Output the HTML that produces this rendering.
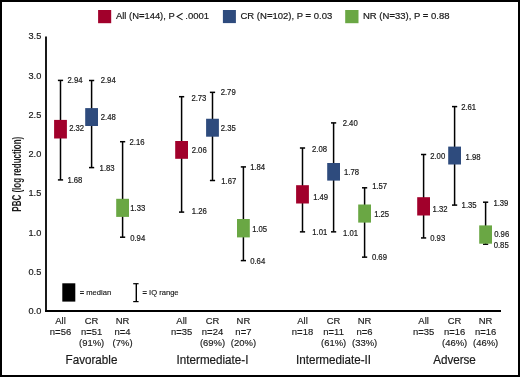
<!DOCTYPE html>
<html><head><meta charset="utf-8"><style>
html,body{margin:0;padding:0;background:#fff;}
body{width:520px;height:377px;overflow:hidden;position:relative;}
svg{position:absolute;left:0;top:0;will-change:transform;}
text{font-family:"Liberation Sans",sans-serif;fill:#1a1a1a;stroke:#1a1a1a;}
</style></head><body>
<svg width="520" height="377" viewBox="0 0 520 377">
<rect x="0" y="0" width="520" height="377" fill="#fff"/>
<rect x="1" y="1" width="518" height="375" fill="none" stroke="#000" stroke-width="2"/>
<rect x="98.1" y="10" width="13.1" height="13.2" fill="#A1002B"/>
<rect x="222.9" y="10" width="13" height="13.1" fill="#2E4B7D"/>
<rect x="345.2" y="10" width="13.3" height="13.2" fill="#6AA744"/>
<text id="leg1" transform="translate(116.00,19.40) scale(0.99,1)" font-size="9.5" stroke-width="0.2">All (N<tspan font-weight="bold">=</tspan>144), P</text>
<polyline points="182.6,13.3 177.1,16.6 182.6,19.9" fill="none" stroke="#1a1a1a" stroke-width="1.05"/>
<text id="leg1b" transform="translate(185.30,19.40)" font-size="9.5" stroke-width="0.2">.0001</text>
<text id="leg2" transform="translate(240.50,19.40)" font-size="9.5" stroke-width="0.2">CR (N<tspan font-weight="bold">=</tspan>102), P <tspan font-weight="bold">=</tspan> 0.03</text>
<text id="leg3" transform="translate(363.00,19.40)" font-size="9.5" stroke-width="0.2">NR (N<tspan font-weight="bold">=</tspan>33), P <tspan font-weight="bold">=</tspan> 0.88</text>
<line x1="46" y1="36.5" x2="46" y2="312" stroke="#000" stroke-width="1.8"/>
<line x1="45.1" y1="311" x2="501" y2="311" stroke="#000" stroke-width="1.8"/>
<text id="y3.5" transform="translate(41.31,39.18) scale(0.94,1)" font-size="9.8" text-anchor="end" stroke-width="0.2">3.5</text>
<text id="y3.0" transform="translate(41.31,78.61) scale(0.94,1)" font-size="9.8" text-anchor="end" stroke-width="0.2">3.0</text>
<text id="y2.5" transform="translate(41.31,118.05) scale(0.94,1)" font-size="9.8" text-anchor="end" stroke-width="0.2">2.5</text>
<text id="y2.0" transform="translate(41.31,157.46) scale(0.94,1)" font-size="9.8" text-anchor="end" stroke-width="0.2">2.0</text>
<text id="y1.5" transform="translate(41.31,195.96) scale(0.94,1)" font-size="9.8" text-anchor="end" stroke-width="0.2">1.5</text>
<text id="y1.0" transform="translate(41.31,235.82) scale(0.94,1)" font-size="9.8" text-anchor="end" stroke-width="0.2">1.0</text>
<text id="y0.5" transform="translate(41.31,274.88) scale(0.94,1)" font-size="9.8" text-anchor="end" stroke-width="0.2">0.5</text>
<text id="y0.0" transform="translate(41.31,314.33) scale(0.94,1)" font-size="9.8" text-anchor="end" stroke-width="0.2">0.0</text>
<text id="ytitle" transform="translate(20.90,174.20) rotate(-90) scale(0.665,1)" font-size="12" text-anchor="middle" font-weight="bold" stroke-width="0">PBC (log reduction)</text>
<line x1="60.5" y1="80.4" x2="60.5" y2="179.9" stroke="#000" stroke-width="1.5"/>
<line x1="57.90" y1="80.4" x2="63.10" y2="80.4" stroke="#000" stroke-width="1.5"/>
<line x1="57.90" y1="179.9" x2="63.10" y2="179.9" stroke="#000" stroke-width="1.5"/>
<rect x="54.10" y="119.9" width="12.8" height="18.60" fill="#A1002B"/>
<line x1="91.6" y1="80.5" x2="91.6" y2="167.6" stroke="#000" stroke-width="1.5"/>
<line x1="89.00" y1="80.5" x2="94.20" y2="80.5" stroke="#000" stroke-width="1.5"/>
<line x1="89.00" y1="167.6" x2="94.20" y2="167.6" stroke="#000" stroke-width="1.5"/>
<rect x="85.20" y="108.1" width="12.8" height="17.90" fill="#2E4B7D"/>
<line x1="122.6" y1="141.7" x2="122.6" y2="237.2" stroke="#000" stroke-width="1.5"/>
<line x1="120.00" y1="141.7" x2="125.20" y2="141.7" stroke="#000" stroke-width="1.5"/>
<line x1="120.00" y1="237.2" x2="125.20" y2="237.2" stroke="#000" stroke-width="1.5"/>
<rect x="116.20" y="198.8" width="12.8" height="18.10" fill="#6AA744"/>
<line x1="181.6" y1="96.7" x2="181.6" y2="212.1" stroke="#000" stroke-width="1.5"/>
<line x1="179.00" y1="96.7" x2="184.20" y2="96.7" stroke="#000" stroke-width="1.5"/>
<line x1="179.00" y1="212.1" x2="184.20" y2="212.1" stroke="#000" stroke-width="1.5"/>
<rect x="175.20" y="141.0" width="12.8" height="17.80" fill="#A1002B"/>
<line x1="212.5" y1="92.35" x2="212.5" y2="180.5" stroke="#000" stroke-width="1.5"/>
<line x1="209.90" y1="92.35" x2="215.10" y2="92.35" stroke="#000" stroke-width="1.5"/>
<line x1="209.90" y1="180.5" x2="215.10" y2="180.5" stroke="#000" stroke-width="1.5"/>
<rect x="206.10" y="118.75" width="12.8" height="17.95" fill="#2E4B7D"/>
<line x1="243.4" y1="166.9" x2="243.4" y2="260.6" stroke="#000" stroke-width="1.5"/>
<line x1="240.80" y1="166.9" x2="246.00" y2="166.9" stroke="#000" stroke-width="1.5"/>
<line x1="240.80" y1="260.6" x2="246.00" y2="260.6" stroke="#000" stroke-width="1.5"/>
<rect x="237.00" y="219.0" width="12.8" height="18.40" fill="#6AA744"/>
<line x1="302.5" y1="148.0" x2="302.5" y2="231.85" stroke="#000" stroke-width="1.5"/>
<line x1="299.90" y1="148.0" x2="305.10" y2="148.0" stroke="#000" stroke-width="1.5"/>
<line x1="299.90" y1="231.85" x2="305.10" y2="231.85" stroke="#000" stroke-width="1.5"/>
<rect x="296.10" y="185.2" width="12.8" height="18.30" fill="#A1002B"/>
<line x1="333.6" y1="122.9" x2="333.6" y2="231.85" stroke="#000" stroke-width="1.5"/>
<line x1="331.00" y1="122.9" x2="336.20" y2="122.9" stroke="#000" stroke-width="1.5"/>
<line x1="331.00" y1="231.85" x2="336.20" y2="231.85" stroke="#000" stroke-width="1.5"/>
<rect x="327.20" y="163.0" width="12.8" height="17.60" fill="#2E4B7D"/>
<line x1="364.6" y1="187.8" x2="364.6" y2="257.15" stroke="#000" stroke-width="1.5"/>
<line x1="362.00" y1="187.8" x2="367.20" y2="187.8" stroke="#000" stroke-width="1.5"/>
<line x1="362.00" y1="257.15" x2="367.20" y2="257.15" stroke="#000" stroke-width="1.5"/>
<rect x="358.20" y="204.5" width="12.8" height="18.10" fill="#6AA744"/>
<line x1="423.6" y1="154.5" x2="423.6" y2="237.95" stroke="#000" stroke-width="1.5"/>
<line x1="421.00" y1="154.5" x2="426.20" y2="154.5" stroke="#000" stroke-width="1.5"/>
<line x1="421.00" y1="237.95" x2="426.20" y2="237.95" stroke="#000" stroke-width="1.5"/>
<rect x="417.20" y="197.2" width="12.8" height="18.30" fill="#A1002B"/>
<line x1="454.6" y1="106.6" x2="454.6" y2="205.1" stroke="#000" stroke-width="1.5"/>
<line x1="452.00" y1="106.6" x2="457.20" y2="106.6" stroke="#000" stroke-width="1.5"/>
<line x1="452.00" y1="205.1" x2="457.20" y2="205.1" stroke="#000" stroke-width="1.5"/>
<rect x="448.20" y="146.6" width="12.8" height="17.90" fill="#2E4B7D"/>
<line x1="485.6" y1="202.2" x2="485.6" y2="244.2" stroke="#000" stroke-width="1.5"/>
<line x1="483.00" y1="202.2" x2="488.20" y2="202.2" stroke="#000" stroke-width="1.5"/>
<line x1="483.00" y1="244.2" x2="488.20" y2="244.2" stroke="#000" stroke-width="1.5"/>
<rect x="479.20" y="225.4" width="12.8" height="18.30" fill="#6AA744"/>
<text id="v0_0" transform="translate(67.57,82.72) scale(0.925,1)" font-size="8.35" stroke-width="0.2">2.94</text>
<text id="v0_1" transform="translate(69.13,131.17) scale(0.925,1)" font-size="8.35" stroke-width="0.2">2.32</text>
<text id="v0_2" transform="translate(67.39,182.63) scale(0.925,1)" font-size="8.35" stroke-width="0.2">1.68</text>
<text id="v1_0" transform="translate(100.66,83.01) scale(0.925,1)" font-size="8.35" stroke-width="0.2">2.94</text>
<text id="v1_1" transform="translate(100.77,119.75) scale(0.925,1)" font-size="8.35" stroke-width="0.2">2.48</text>
<text id="v1_2" transform="translate(99.62,171.18) scale(0.925,1)" font-size="8.35" stroke-width="0.2">1.83</text>
<text id="v2_0" transform="translate(129.57,145.37) scale(0.925,1)" font-size="8.35" stroke-width="0.2">2.16</text>
<text id="v2_1" transform="translate(130.27,210.67) scale(0.925,1)" font-size="8.35" stroke-width="0.2">1.33</text>
<text id="v2_2" transform="translate(130.16,241.36) scale(0.925,1)" font-size="8.35" stroke-width="0.2">0.94</text>
<text id="v3_0" transform="translate(191.38,101.23) scale(0.925,1)" font-size="8.35" stroke-width="0.2">2.73</text>
<text id="v3_1" transform="translate(191.66,152.85) scale(0.925,1)" font-size="8.35" stroke-width="0.2">2.06</text>
<text id="v3_2" transform="translate(191.80,214.07) scale(0.925,1)" font-size="8.35" stroke-width="0.2">1.26</text>
<text id="v4_0" transform="translate(220.66,94.86) scale(0.925,1)" font-size="8.35" stroke-width="0.2">2.79</text>
<text id="v4_1" transform="translate(220.77,130.77) scale(0.925,1)" font-size="8.35" stroke-width="0.2">2.35</text>
<text id="v4_2" transform="translate(221.26,184.25) scale(0.925,1)" font-size="8.35" stroke-width="0.2">1.67</text>
<text id="v5_0" transform="translate(250.13,169.86) scale(0.925,1)" font-size="8.35" stroke-width="0.2">1.84</text>
<text id="v5_1" transform="translate(252.15,231.79) scale(0.925,1)" font-size="8.35" stroke-width="0.2">1.05</text>
<text id="v5_2" transform="translate(250.16,264.10) scale(0.925,1)" font-size="8.35" stroke-width="0.2">0.64</text>
<text id="v6_0" transform="translate(311.99,151.73) scale(0.925,1)" font-size="8.35" stroke-width="0.2">2.08</text>
<text id="v6_1" transform="translate(313.15,200.18) scale(0.925,1)" font-size="8.35" stroke-width="0.2">1.49</text>
<text id="v6_2" transform="translate(312.26,234.93) scale(0.925,1)" font-size="8.35" stroke-width="0.2">1.01</text>
<text id="v7_0" transform="translate(342.66,126.23) scale(0.925,1)" font-size="8.35" stroke-width="0.2">2.40</text>
<text id="v7_1" transform="translate(344.00,174.77) scale(0.925,1)" font-size="8.35" stroke-width="0.2">1.78</text>
<text id="v7_2" transform="translate(343.00,235.79) scale(0.925,1)" font-size="8.35" stroke-width="0.2">1.01</text>
<text id="v8_0" transform="translate(372.13,189.25) scale(0.925,1)" font-size="8.35" stroke-width="0.2">1.57</text>
<text id="v8_1" transform="translate(374.13,217.49) scale(0.925,1)" font-size="8.35" stroke-width="0.2">1.25</text>
<text id="v8_2" transform="translate(371.94,260.19) scale(0.925,1)" font-size="8.35" stroke-width="0.2">0.69</text>
<text id="v9_0" transform="translate(430.16,158.89) scale(0.925,1)" font-size="8.35" stroke-width="0.2">2.00</text>
<text id="v9_1" transform="translate(432.62,211.80) scale(0.925,1)" font-size="8.35" stroke-width="0.2">1.32</text>
<text id="v9_2" transform="translate(430.16,240.64) scale(0.925,1)" font-size="8.35" stroke-width="0.2">0.93</text>
<text id="v10_0" transform="translate(461.14,110.06) scale(0.925,1)" font-size="8.35" stroke-width="0.2">2.61</text>
<text id="v10_1" transform="translate(465.62,159.85) scale(0.925,1)" font-size="8.35" stroke-width="0.2">1.98</text>
<text id="v10_2" transform="translate(461.62,208.33) scale(0.925,1)" font-size="8.35" stroke-width="0.2">1.35</text>
<text id="v11_0" transform="translate(493.39,206.04) scale(0.925,1)" font-size="8.35" stroke-width="0.2">1.39</text>
<text id="v11_1" transform="translate(494.16,236.97) scale(0.925,1)" font-size="8.35" stroke-width="0.2">0.96</text>
<text id="v11_2" transform="translate(493.66,248.40) scale(0.925,1)" font-size="8.35" stroke-width="0.2">0.85</text>
<rect x="62.3" y="283.3" width="13" height="18.3" fill="#000"/>
<text id="med" transform="translate(79.70,295.00)" font-size="7.6" stroke-width="0.15"><tspan font-weight="bold">=</tspan> median</text>
<line x1="136.3" y1="283.7" x2="136.3" y2="301.6" stroke="#000" stroke-width="1.4"/>
<line x1="133.2" y1="283.7" x2="138.6" y2="283.7" stroke="#000" stroke-width="1.2"/>
<line x1="133.2" y1="301.6" x2="138.6" y2="301.6" stroke="#000" stroke-width="1.2"/>
<text id="iqr" transform="translate(142.50,295.00)" font-size="7.6" stroke-width="0.15"><tspan font-weight="bold">=</tspan> IQ range</text>
<text id="xa00" transform="translate(60.50,323.80) scale(1.03,1)" font-size="9.2" text-anchor="middle" stroke-width="0.15">All</text>
<text id="xb00" transform="translate(60.50,334.80) scale(1.03,1)" font-size="9.2" text-anchor="middle" stroke-width="0.15">n<tspan font-weight="bold">=</tspan>56</text>
<text id="xa01" transform="translate(91.60,323.80) scale(1.03,1)" font-size="9.2" text-anchor="middle" stroke-width="0.15">CR</text>
<text id="xb01" transform="translate(91.60,334.80) scale(1.03,1)" font-size="9.2" text-anchor="middle" stroke-width="0.15">n<tspan font-weight="bold">=</tspan>51</text>
<text id="xc01" transform="translate(91.60,346.10) scale(1.03,1)" font-size="9.2" text-anchor="middle" stroke-width="0.15">(91%)</text>
<text id="xa02" transform="translate(122.60,323.80) scale(1.03,1)" font-size="9.2" text-anchor="middle" stroke-width="0.15">NR</text>
<text id="xb02" transform="translate(122.60,334.80) scale(1.03,1)" font-size="9.2" text-anchor="middle" stroke-width="0.15">n<tspan font-weight="bold">=</tspan>4</text>
<text id="xc02" transform="translate(122.60,346.10) scale(1.03,1)" font-size="9.2" text-anchor="middle" stroke-width="0.15">(7%)</text>
<text id="g0" transform="translate(91.50,364.00) scale(0.94,1)" font-size="12.4" text-anchor="middle" stroke-width="0.2">Favorable</text>
<text id="xa10" transform="translate(181.60,323.80) scale(1.03,1)" font-size="9.2" text-anchor="middle" stroke-width="0.15">All</text>
<text id="xb10" transform="translate(181.60,334.80) scale(1.03,1)" font-size="9.2" text-anchor="middle" stroke-width="0.15">n<tspan font-weight="bold">=</tspan>35</text>
<text id="xa11" transform="translate(212.50,323.80) scale(1.03,1)" font-size="9.2" text-anchor="middle" stroke-width="0.15">CR</text>
<text id="xb11" transform="translate(212.50,334.80) scale(1.03,1)" font-size="9.2" text-anchor="middle" stroke-width="0.15">n<tspan font-weight="bold">=</tspan>24</text>
<text id="xc11" transform="translate(212.50,346.10) scale(1.03,1)" font-size="9.2" text-anchor="middle" stroke-width="0.15">(69%)</text>
<text id="xa12" transform="translate(243.40,323.80) scale(1.03,1)" font-size="9.2" text-anchor="middle" stroke-width="0.15">NR</text>
<text id="xb12" transform="translate(243.40,334.80) scale(1.03,1)" font-size="9.2" text-anchor="middle" stroke-width="0.15">n<tspan font-weight="bold">=</tspan>7</text>
<text id="xc12" transform="translate(243.40,346.10) scale(1.03,1)" font-size="9.2" text-anchor="middle" stroke-width="0.15">(20%)</text>
<text id="g1" transform="translate(212.50,364.00) scale(0.94,1)" font-size="12.4" text-anchor="middle" stroke-width="0.2">Intermediate-I</text>
<text id="xa20" transform="translate(302.50,323.80) scale(1.03,1)" font-size="9.2" text-anchor="middle" stroke-width="0.15">All</text>
<text id="xb20" transform="translate(302.50,334.80) scale(1.03,1)" font-size="9.2" text-anchor="middle" stroke-width="0.15">n<tspan font-weight="bold">=</tspan>18</text>
<text id="xa21" transform="translate(333.60,323.80) scale(1.03,1)" font-size="9.2" text-anchor="middle" stroke-width="0.15">CR</text>
<text id="xb21" transform="translate(333.60,334.80) scale(1.03,1)" font-size="9.2" text-anchor="middle" stroke-width="0.15">n<tspan font-weight="bold">=</tspan>11</text>
<text id="xc21" transform="translate(333.60,346.10) scale(1.03,1)" font-size="9.2" text-anchor="middle" stroke-width="0.15">(61%)</text>
<text id="xa22" transform="translate(364.60,323.80) scale(1.03,1)" font-size="9.2" text-anchor="middle" stroke-width="0.15">NR</text>
<text id="xb22" transform="translate(364.60,334.80) scale(1.03,1)" font-size="9.2" text-anchor="middle" stroke-width="0.15">n<tspan font-weight="bold">=</tspan>6</text>
<text id="xc22" transform="translate(364.60,346.10) scale(1.03,1)" font-size="9.2" text-anchor="middle" stroke-width="0.15">(33%)</text>
<text id="g2" transform="translate(333.50,364.00) scale(0.94,1)" font-size="12.4" text-anchor="middle" stroke-width="0.2">Intermediate-II</text>
<text id="xa30" transform="translate(423.60,323.80) scale(1.03,1)" font-size="9.2" text-anchor="middle" stroke-width="0.15">All</text>
<text id="xb30" transform="translate(423.60,334.80) scale(1.03,1)" font-size="9.2" text-anchor="middle" stroke-width="0.15">n<tspan font-weight="bold">=</tspan>35</text>
<text id="xa31" transform="translate(454.60,323.80) scale(1.03,1)" font-size="9.2" text-anchor="middle" stroke-width="0.15">CR</text>
<text id="xb31" transform="translate(454.60,334.80) scale(1.03,1)" font-size="9.2" text-anchor="middle" stroke-width="0.15">n<tspan font-weight="bold">=</tspan>16</text>
<text id="xc31" transform="translate(454.60,346.10) scale(1.03,1)" font-size="9.2" text-anchor="middle" stroke-width="0.15">(46%)</text>
<text id="xa32" transform="translate(485.60,323.80) scale(1.03,1)" font-size="9.2" text-anchor="middle" stroke-width="0.15">NR</text>
<text id="xb32" transform="translate(485.60,334.80) scale(1.03,1)" font-size="9.2" text-anchor="middle" stroke-width="0.15">n<tspan font-weight="bold">=</tspan>16</text>
<text id="xc32" transform="translate(485.60,346.10) scale(1.03,1)" font-size="9.2" text-anchor="middle" stroke-width="0.15">(46%)</text>
<text id="g3" transform="translate(454.50,364.00) scale(0.94,1)" font-size="12.4" text-anchor="middle" stroke-width="0.2">Adverse</text>
</svg></body></html>
